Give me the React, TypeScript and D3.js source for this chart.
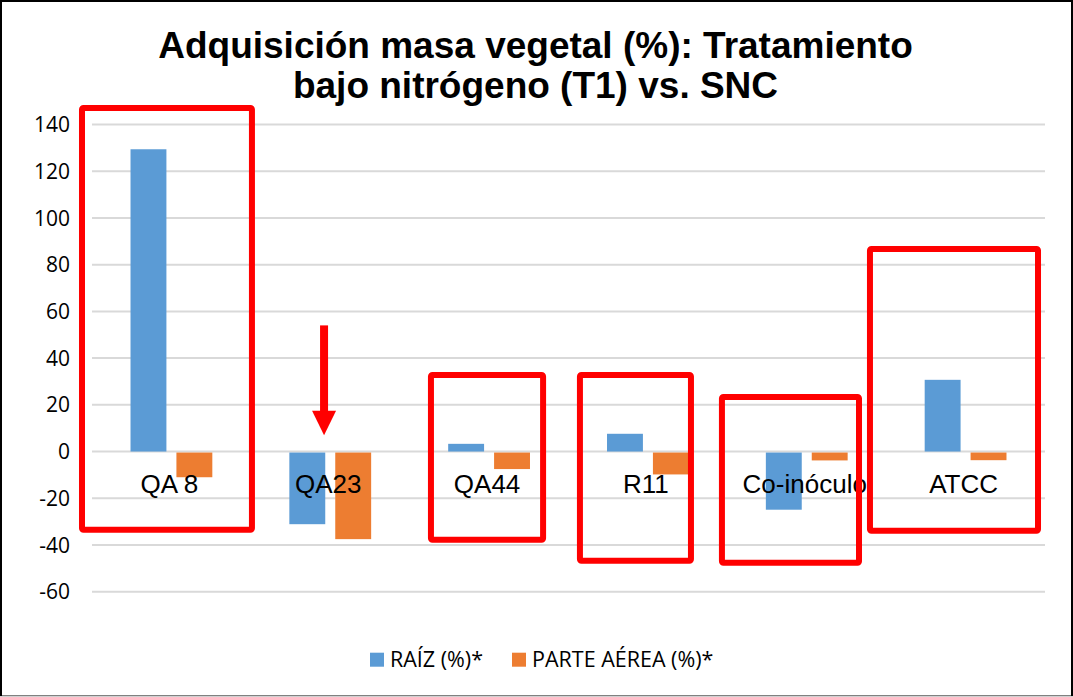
import React from "react";
import * as d3 from "d3";

const categories = ["QA 8", "QA23", "QA44", "R11", "Co-inóculo", "ATCC"];
const seriesNames = ["RAÍZ (%)*", "PARTE AÉREA (%)*"];
const raiz = [129.4, -31.1, 3.3, 7.6, -24.9, 30.7];
const parteAerea = [-11.0, -37.5, -7.5, -9.8, -3.8, -3.7];
const yTicks = [140, 120, 100, 80, 60, 40, 20, 0, -20, -40, -60];
const titleLines = ["Adquisición masa vegetal (%): Tratamiento", "bajo nitrógeno (T1) vs. SNC"];

// annotation boxes: x in category-band units, y in value units
const boxX0 = [-0.063, 2.134, 3.072, 3.966, 4.898];
const boxX1 = [1.007, 2.84, 3.771, 4.829, 5.956];
const boxTop = [147.1, 32.8, 32.8, 23.4, 86.7];
const boxBottom = [-33.5, -37.8, -46.8, -47.6, -33.9];
// arrow: band-unit x, value-unit y
const arrowX = 1.461;
const arrowShaftTop = 54;
const arrowHeadBase = 17.5;
const arrowTip = 7;

const colors = ["#5B9BD5", "#ED7D31"];

export default function App() {
  const W = 1073;
  const H = 697;
  const plotLeft = 92;
  const plotRight = 1045;
  const x = d3.scaleBand<string>().domain(categories).range([plotLeft, plotRight]).padding(0);
  const xs = d3
    .scaleBand<string>()
    .domain(seriesNames)
    .range([0, x.bandwidth()])
    .paddingInner(0.218)
    .paddingOuter(0.839);
  const y = d3.scaleLinear().domain([-60, 140]).range([591.7, 124.5]);
  const bandU = (u: number) => plotLeft + u * x.bandwidth();
  const series = [raiz, parteAerea];

  const ax = bandU(arrowX);
  return (
    <div style={{ position: "fixed", left: 0, top: 0 }}>
      <svg width={W} height={H} style={{ display: "block", background: "#fff" }}>
        <defs>
          <clipPath id="lblclip">
            <rect x={0} y={0} width={870} height={H} />
          </clipPath>
        </defs>
        <rect x={1} y={1} width={W - 2} height={H - 1.5} fill="#fff" stroke="#000" strokeWidth={2} />
        <line x1={0} x2={W} y1={H - 0.5} y2={H - 0.5} stroke="#d0d0d0" strokeWidth={1} />
        {titleLines.map((t, i) => (
          <text
            key={i}
            x={(157 + 914) / 2}
            y={58 + i * 40}
            textAnchor="middle"
            fontFamily="'Liberation Sans', Arial, sans-serif"
            fontWeight="bold"
            fontSize={37}
            fill="#000"
          >
            {t}
          </text>
        ))}
        {yTicks.map((t) => (
          <g key={t}>
            <line x1={plotLeft} x2={plotRight} y1={y(t)} y2={y(t)} stroke="#d9d9d9" strokeWidth={2} />
            <text
              x={70}
              y={y(t)}
              dy="0.36em"
              textAnchor="end"
              fontFamily="'Open Sans', sans-serif"
              fontSize={21}
              fill="#000"
            >
              {t}
            </text>
          </g>
        ))}
        {series.map((vals, si) =>
          vals.map((v, ci) => {
            const cx = (x(categories[ci]) ?? 0) + (xs(seriesNames[si]) ?? 0);
            const y0 = y(0);
            const yv = y(v);
            return (
              <rect
                key={si + "-" + ci}
                x={cx}
                width={xs.bandwidth()}
                y={Math.min(y0, yv) + (v < 0 ? 1 : 0)}
                height={Math.abs(yv - y0) - (v < 0 ? 1 : 0)}
                fill={colors[si]}
              />
            );
          })
        )}
        {categories.map((c, i) => (
          <text
            key={c}
            x={(x(c) ?? 0) + x.bandwidth() / 2 - 2}
            y={493}
            textAnchor="middle"
            fontFamily="'Liberation Sans', Arial, sans-serif"
            fontSize={26}
            fill="#000"
            clipPath={i === 4 ? "url(#lblclip)" : undefined}
          >
            {c}
          </text>
        ))}
        {boxX0.map((b, i) => (
          <rect
            key={i}
            x={bandU(b)}
            y={y(boxTop[i])}
            width={bandU(boxX1[i]) - bandU(b)}
            height={y(boxBottom[i]) - y(boxTop[i])}
            fill="none"
            stroke="#FF0000"
            strokeWidth={6}
            rx={1.5}
            strokeLinejoin="round"
          />
        ))}
        <rect x={ax - 4} y={y(arrowShaftTop)} width={8} height={y(arrowHeadBase) - y(arrowShaftTop) + 1} fill="#FF0000" />
        <polygon
          points={`${ax - 12},${y(arrowHeadBase)} ${ax + 12},${y(arrowHeadBase)} ${ax},${y(arrowTip)}`}
          fill="#FF0000"
        />
        {seriesNames.map((s, i) => {
          const lx = [370, 512][i];
          return (
            <g key={s}>
              <rect x={lx} y={652.7} width={14} height={14} fill={colors[i]} />
              <text x={lx + 20} y={667} fontFamily="'Open Sans', sans-serif" fontSize={21.5} fill="#000">
                {s}
              </text>
            </g>
          );
        })}
      </svg>
    </div>
  );
}
